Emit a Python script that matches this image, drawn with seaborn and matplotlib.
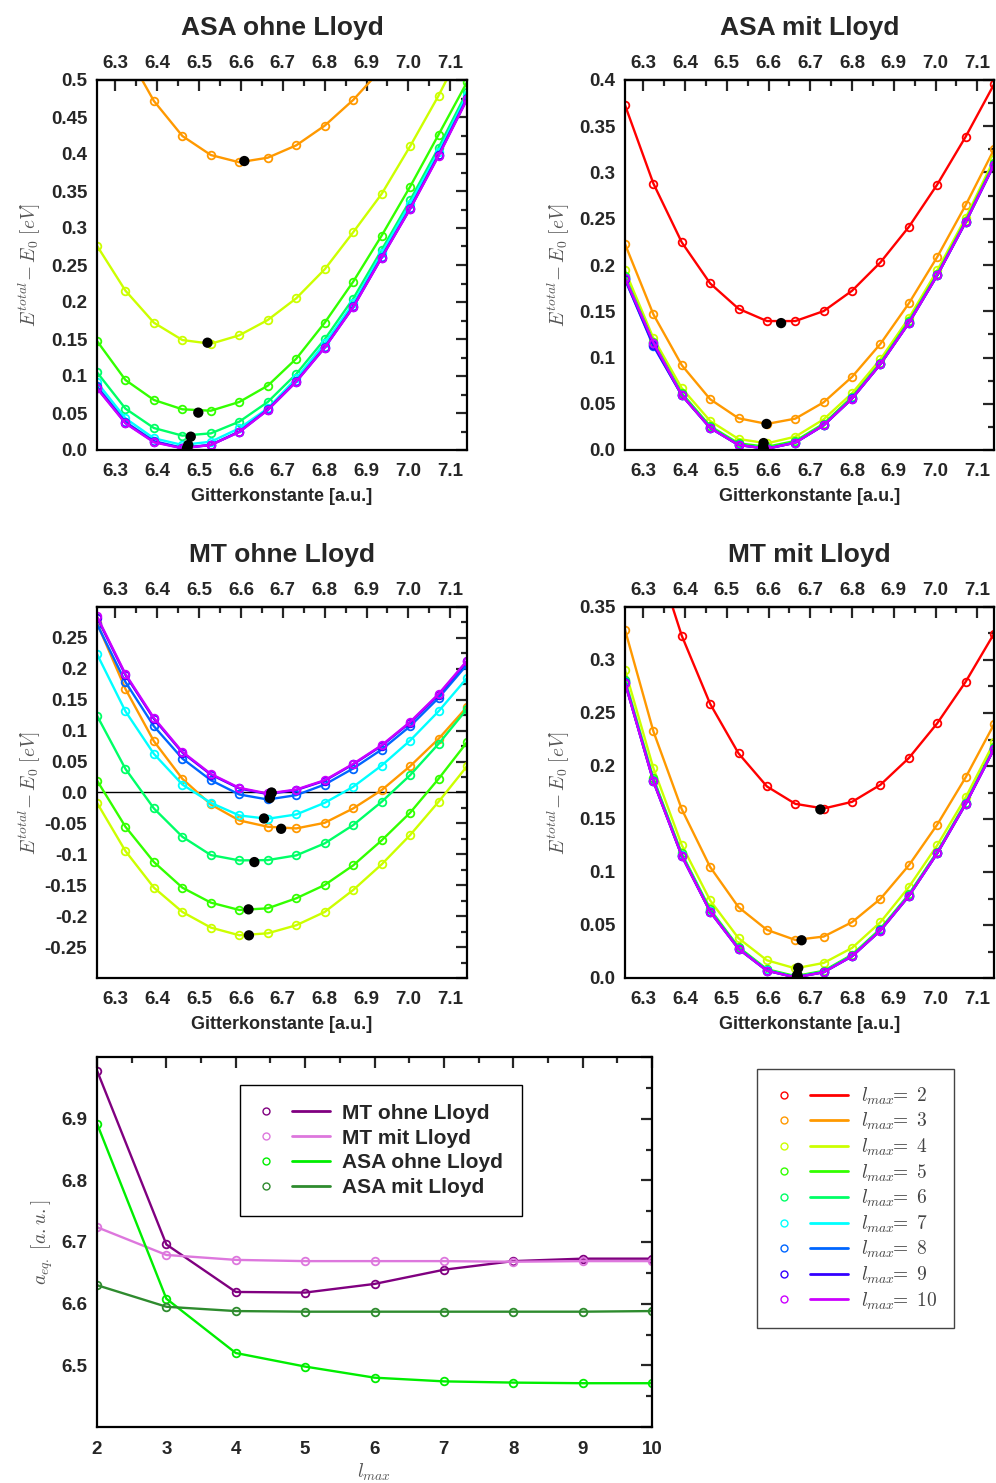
import numpy as np
import pandas as pd
import matplotlib
matplotlib.use("Agg")
import matplotlib.pyplot as plt
from matplotlib.ticker import MultipleLocator, FuncFormatter, FixedLocator, NullLocator
from matplotlib.lines import Line2D
from matplotlib.legend_handler import HandlerBase
import seaborn as sns

# ---------------- data ----------------
LATTICE = [6.256, 6.324, 6.392, 6.460, 6.528, 6.596, 6.664, 6.732, 6.800, 6.868, 6.936, 7.004, 7.072, 7.140]
LATTICE_TICKS = [6.3, 6.4, 6.5, 6.6, 6.7, 6.8, 6.9, 7.0, 7.1]
LMAX = [2, 3, 4, 5, 6, 7, 8, 9, 10]
LMAX_COLORS = ['#ff0000', '#ff9900', '#ccff00', '#33ff00', '#00ff66', '#00ffff', '#0066ff', '#3300ff', '#cc00ff']

ASA_OHNE = {
    3: [0.62, 0.54, 0.4716, 0.4243, 0.3986, 0.3888, 0.3950, 0.4117, 0.4383, 0.4730, 0.515, 0.565, 0.62, 0.68],
    4: [0.276, 0.2153, 0.172, 0.1486, 0.1436, 0.155, 0.1757, 0.205, 0.2442, 0.2942, 0.346, 0.4104, 0.4788, 0.555],
    5: [0.1473, 0.0946, 0.0676, 0.055, 0.0531, 0.0649, 0.0869, 0.1234, 0.172, 0.2274, 0.2896, 0.3558, 0.4261, 0.497],
    6: [0.105, 0.0559, 0.0297, 0.0194, 0.0225, 0.0383, 0.0649, 0.1027, 0.1496, 0.2045, 0.2703, 0.3374, 0.4085, 0.4842],
    7: [0.0915, 0.0428, 0.0158, 0.0068, 0.0112, 0.0293, 0.0563, 0.0969, 0.144, 0.198, 0.266, 0.333, 0.403, 0.480],
    8: [0.086, 0.038, 0.012, 0.003, 0.007, 0.025, 0.055, 0.093, 0.139, 0.194, 0.261, 0.327, 0.399, 0.476],
    9: [0.084, 0.0365, 0.011, 0.0025, 0.0068, 0.0245, 0.0542, 0.0925, 0.1385, 0.193, 0.260, 0.326, 0.398, 0.474],
    10: [0.0833, 0.036, 0.0104, 0.0023, 0.0068, 0.0243, 0.054, 0.0923, 0.1383, 0.1928, 0.2599, 0.3257, 0.3973, 0.4739],
}
ASA_MIT = {
    2: [0.3729, 0.2881, 0.2245, 0.1801, 0.1527, 0.1394, 0.1394, 0.1502, 0.1722, 0.2029, 0.2412, 0.2870, 0.3386, 0.3953],
    3: [0.2227, 0.1466, 0.0917, 0.0549, 0.0343, 0.0282, 0.0339, 0.0516, 0.0791, 0.1148, 0.1585, 0.2087, 0.2646, 0.3249],
    4: [0.1942, 0.1209, 0.0668, 0.0314, 0.0119, 0.0072, 0.0144, 0.0332, 0.0614, 0.0982, 0.1426, 0.1942, 0.2509, 0.3141],
    5: [0.188, 0.117, 0.0615, 0.0258, 0.0072, 0.0035, 0.0098, 0.0285, 0.0575, 0.0945, 0.1395, 0.1905, 0.2480, 0.3105],
    6: [0.1865, 0.1155, 0.0600, 0.0245, 0.0060, 0.0020, 0.0085, 0.0272, 0.0562, 0.0933, 0.1380, 0.1892, 0.2466, 0.3088],
    7: [0.186, 0.115, 0.0596, 0.0241, 0.0056, 0.0016, 0.0081, 0.0269, 0.0558, 0.0930, 0.1376, 0.1890, 0.2464, 0.3085],
    8: [0.1845, 0.1125, 0.0592, 0.0239, 0.0055, 0.0015, 0.0080, 0.0268, 0.0557, 0.0929, 0.1374, 0.1889, 0.2463, 0.3084],
    9: [0.1850, 0.1135, 0.0592, 0.0238, 0.0054, 0.0014, 0.0079, 0.0267, 0.0556, 0.0928, 0.1373, 0.1888, 0.2462, 0.3083],
    10: [0.1859, 0.1162, 0.0592, 0.0238, 0.0054, 0.0014, 0.0079, 0.0267, 0.0556, 0.0928, 0.1372, 0.1888, 0.2462, 0.3083],
}
MT_OHNE = {
    3: [0.274, 0.1674, 0.0829, 0.0221, -0.0194, -0.0452, -0.0554, -0.0581, -0.049, -0.0258, 0.0038, 0.0425, 0.0867, 0.1383],
    4: [-0.0167, -0.0947, -0.1539, -0.1932, -0.2185, -0.2309, -0.2277, -0.2147, -0.1932, -0.1577, -0.1163, -0.0689, -0.0151, 0.0425],
    5: [0.0194, -0.0554, -0.1125, -0.1539, -0.1781, -0.19, -0.1873, -0.1711, -0.1496, -0.1179, -0.0775, -0.0328, 0.0221, 0.0813],
    6: [0.1243, 0.0382, -0.0258, -0.0716, -0.1012, -0.1098, -0.1093, -0.1017, -0.0823, -0.0527, -0.0151, 0.028, 0.0786, 0.1351],
    7: [0.2239, 0.1313, 0.0624, 0.0129, -0.0167, -0.0371, -0.0425, -0.0355, -0.0167, 0.0091, 0.0436, 0.084, 0.1313, 0.1851],
    8: [0.2723, 0.1787, 0.1071, 0.0549, 0.0199, -0.0032, -0.0113, -0.0043, 0.0129, 0.0388, 0.0694, 0.1071, 0.1529, 0.2067],
    9: [0.283, 0.190, 0.119, 0.0645, 0.029, 0.0065, -0.0025, 0.004, 0.019, 0.0455, 0.0755, 0.113, 0.158, 0.212],
    10: [0.2847, 0.1916, 0.1206, 0.0657, 0.0301, 0.0075, -0.0016, 0.0048, 0.0199, 0.0463, 0.0764, 0.1141, 0.1593, 0.2131],
}
MT_MIT = {
    2: [0.51, 0.406, 0.3229, 0.2586, 0.2119, 0.1807, 0.1643, 0.1599, 0.1662, 0.1823, 0.2075, 0.2403, 0.2794, 0.3248],
    3: [0.3286, 0.2327, 0.1592, 0.1047, 0.0668, 0.0454, 0.0359, 0.0391, 0.0527, 0.0747, 0.1063, 0.1447, 0.1892, 0.2393],
    4: [0.2907, 0.198, 0.1255, 0.0732, 0.0375, 0.0167, 0.0091, 0.0142, 0.0284, 0.0527, 0.0858, 0.1252, 0.1703, 0.2223],
    5: [0.2815, 0.1885, 0.1175, 0.0648, 0.0292, 0.0083, 0.0018, 0.0068, 0.0220, 0.0465, 0.0790, 0.1192, 0.1655, 0.2175],
    6: [0.2800, 0.1868, 0.1162, 0.0635, 0.0282, 0.0075, 0.0011, 0.0060, 0.0212, 0.0455, 0.0780, 0.1183, 0.1647, 0.2167],
    7: [0.2792, 0.1860, 0.1156, 0.0629, 0.0278, 0.0072, 0.0008, 0.0057, 0.0208, 0.0451, 0.0776, 0.1179, 0.1643, 0.2163],
    8: [0.2788, 0.1857, 0.1153, 0.0626, 0.0276, 0.0070, 0.0007, 0.0055, 0.0206, 0.0449, 0.0774, 0.1177, 0.1641, 0.2161],
    9: [0.2786, 0.1855, 0.1152, 0.0625, 0.0275, 0.0069, 0.0006, 0.0054, 0.0205, 0.0448, 0.0773, 0.1176, 0.1640, 0.2160],
    10: [0.2784, 0.1854, 0.1151, 0.0624, 0.0274, 0.0069, 0.0006, 0.0054, 0.0205, 0.0448, 0.0773, 0.1176, 0.1640, 0.2160],
}

# equilibrium lattice constants (lmax = 2..10)
AEQ_MT_OHNE = [6.978, 6.696, 6.619, 6.618, 6.632, 6.655, 6.669, 6.673, 6.673]
AEQ_MT_MIT = [6.724, 6.679, 6.671, 6.669, 6.669, 6.669, 6.668, 6.669, 6.669]
AEQ_ASA_OHNE = [6.892, 6.608, 6.520, 6.498, 6.480, 6.474, 6.472, 6.471, 6.471]
AEQ_ASA_MIT = [6.630, 6.595, 6.588, 6.587, 6.587, 6.587, 6.587, 6.587, 6.588]

# minimum energies (fit minima, black dots)
EMIN_ASA_OHNE = {3: 0.3905, 4: 0.1450, 5: 0.0505, 6: 0.0180, 7: 0.0068, 8: 0.0030, 9: 0.0020, 10: 0.0012}
EMIN_ASA_MIT = {2: 0.1372, 3: 0.0282, 4: 0.0075, 5: 0.0040, 6: 0.0020, 7: 0.0015, 8: 0.0010, 9: 0.0010, 10: 0.0010}
EMIN_MT_OHNE = {3: -0.0587, 4: -0.2310, 5: -0.1890, 6: -0.1125, 7: -0.0420, 8: -0.0090, 9: -0.0010, 10: 0.0000}
EMIN_MT_MIT = {2: 0.1590, 3: 0.0356, 4: 0.0095, 5: 0.0030, 6: 0.0015, 7: 0.0010, 8: 0.0008, 9: 0.0006, 10: 0.0006}

SUMMARY_NAMES = ['MT ohne Lloyd', 'MT mit Lloyd', 'ASA ohne Lloyd', 'ASA mit Lloyd']
SUMMARY_COLORS = ['#800080', '#dd77dd', '#00ee00', '#2e8b2e']

# ---------------- style ----------------
sns.set_style("white")
plt.rcParams['font.family'] = ['Liberation Sans', 'DejaVu Sans']
plt.rcParams['font.weight'] = 'bold'
plt.rcParams['axes.titleweight'] = 'bold'
plt.rcParams['axes.labelweight'] = 'bold'
plt.rcParams['mathtext.fontset'] = 'cm'
plt.rcParams['axes.edgecolor'] = 'black'
plt.rcParams['axes.linewidth'] = 1.6

W, H = 996, 1483
fig = plt.figure(figsize=(W / 100, H / 100), dpi=100)
fig.patch.set_facecolor('white')


class MarkerLineHandler(HandlerBase):
    """gnuplot-like key: open circle, gap, then a line segment."""

    def __init__(self, mfrac, lstart, lend, ms=5.0):
        super().__init__()
        self.mfrac, self.lstart, self.lend, self.ms = mfrac, lstart, lend, ms

    def create_artists(self, legend, orig_handle, xdescent, ydescent,
                       width, height, fontsize, trans):
        c = orig_handle.get_color()
        y = height / 2 - ydescent
        m = Line2D([width * self.mfrac - xdescent], [y], ls='none', marker='o',
                   markersize=self.ms, markerfacecolor='none', markeredgecolor=c,
                   markeredgewidth=1.0, transform=trans)
        ln = Line2D([width * self.lstart - xdescent, width * self.lend - xdescent],
                    [y, y], color=c, lw=2.0, transform=trans)
        return [m, ln]


def add_axes(l, t, r, b):
    return fig.add_axes([l / W, 1 - b / H, (r - l) / W, (b - t) / H])


def yfmt(v, pos=None):
    if abs(v) < 1e-9:
        return '0.0'
    return f'{v:g}'


def xfmt(v, pos=None):
    return f'{v:.1f}'


def style_energy_axes(ax, ymin, ymax, hide_edges=False):
    ax.set_xlim(LATTICE[0], LATTICE[-1])
    ax.set_ylim(ymin, ymax)
    ax.xaxis.set_major_locator(FixedLocator(LATTICE_TICKS))
    ax.xaxis.set_minor_locator(MultipleLocator(0.05))
    ax.yaxis.set_major_locator(MultipleLocator(0.05))
    ax.yaxis.set_minor_locator(MultipleLocator(0.025))
    ax.xaxis.set_major_formatter(FuncFormatter(xfmt))
    if hide_edges:
        ax.yaxis.set_major_formatter(FuncFormatter(
            lambda v, p: '' if abs(abs(v) - 0.3) < 1e-6 else yfmt(v)))
    else:
        ax.yaxis.set_major_formatter(FuncFormatter(yfmt))
    ax.tick_params(which='both', direction='in', top=True, right=True,
                   labeltop=False, width=1.6, labelsize=13.5)
    ax.tick_params(which='major', length=8)
    ax.tick_params(which='minor', length=4)
    ax.tick_params(axis='x', which='major', pad=9)
    ax.tick_params(axis='y', which='major', pad=7)
    # top tick labels (own padding)
    sec = ax.secondary_xaxis('top')
    sec.xaxis.set_major_locator(FixedLocator(LATTICE_TICKS))
    sec.xaxis.set_minor_locator(NullLocator())
    sec.xaxis.set_major_formatter(FuncFormatter(xfmt))
    sec.tick_params(which='both', direction='in', length=0, pad=5.5, labelsize=13.5)
    sec.spines['top'].set_linewidth(1.6)
    ax.set_xlabel('Gitterkonstante [a.u.]', fontsize=13, fontweight='bold')
    ax.xaxis.set_label_coords(0.5, -0.103)
    ax.set_ylabel(r'$E^{total}\!-E_0\ [eV]$', fontsize=14, color='#555555')


def draw_energy(ax, curves, aeq, emin):
    for lm, vals in curves.items():
        c = LMAX_COLORS[LMAX.index(lm)]
        df = pd.DataFrame({'a': LATTICE, 'E': vals})
        sns.lineplot(data=df, x='a', y='E', ax=ax, color=c, lw=1.7,
                     marker='o', markersize=5.5, markerfacecolor='none',
                     markeredgecolor=c, markeredgewidth=1.3,
                     sort=False, estimator=None, legend=False)
    dots = pd.DataFrame({'a': [aeq[LMAX.index(lm)] for lm in emin],
                         'E': list(emin.values())})
    sns.scatterplot(data=dots, x='a', y='E', ax=ax, color='black', s=55,
                    edgecolor='none', zorder=10, legend=False)


panels = [
    ('ASA ohne Lloyd', (97, 80, 467, 450), ASA_OHNE, AEQ_ASA_OHNE, EMIN_ASA_OHNE, (0.0, 0.5), False, -0.146),
    ('ASA mit Lloyd', (625, 80, 994, 450), ASA_MIT, AEQ_ASA_MIT, EMIN_ASA_MIT, (0.0, 0.4), False, -0.143),
    ('MT ohne Lloyd', (97, 607, 467, 978), MT_OHNE, AEQ_MT_OHNE, EMIN_MT_OHNE, (-0.3, 0.3), True, -0.146),
    ('MT mit Lloyd', (625, 607, 994, 978), MT_MIT, AEQ_MT_MIT, EMIN_MT_MIT, (0.0, 0.35), False, -0.143),
]

for title, box, curves, aeq, emin, ylim, hide, ylab_x in panels:
    ax = add_axes(*box)
    draw_energy(ax, curves, aeq, emin)
    style_energy_axes(ax, ylim[0], ylim[1], hide_edges=hide)
    ax.yaxis.set_label_coords(ylab_x, 0.5)
    ax.set_title(title, fontsize=19, fontweight='bold', y=1.1405, va='center', pad=0)
    if hide:
        ax.axhline(0.0, color='black', lw=1.0, zorder=1)

# ---------------- summary panel ----------------
ax5 = add_axes(97, 1057, 652, 1427)
summary = [AEQ_MT_OHNE, AEQ_MT_MIT, AEQ_ASA_OHNE, AEQ_ASA_MIT]
handles = []
for name, vals, c in zip(SUMMARY_NAMES, summary, SUMMARY_COLORS):
    sns.lineplot(x=LMAX, y=vals, ax=ax5, color=c, lw=1.7, marker='o',
                 markersize=5.5, markerfacecolor='none', markeredgecolor=c,
                 markeredgewidth=1.3, legend=False, estimator=None, sort=False)
    handles.append(Line2D([], [], color=c))
ax5.set_xlim(2, 10)
ax5.set_ylim(6.4, 7.0)
ax5.xaxis.set_major_locator(MultipleLocator(1))
ax5.xaxis.set_minor_locator(MultipleLocator(0.5))
ax5.yaxis.set_major_locator(MultipleLocator(0.1))
ax5.yaxis.set_minor_locator(MultipleLocator(0.05))
ax5.yaxis.set_major_formatter(FuncFormatter(
    lambda v, p: '' if (abs(v - 6.4) < 1e-6 or abs(v - 7.0) < 1e-6) else f'{v:.1f}'))
ax5.tick_params(which='both', direction='in', top=True, right=True, width=1.6, labelsize=13.5)
ax5.tick_params(which='major', length=8)
ax5.tick_params(which='minor', length=4)
ax5.tick_params(axis='x', which='major', pad=10)
ax5.tick_params(axis='y', which='major', pad=7)
ax5.set_xlabel(r'$l_{max}$', fontsize=14, color='#555555')
ax5.xaxis.set_label_coords(0.5, -0.093)
ax5.set_ylabel(r'$a_{eq.}\ [a.u.]$', fontsize=14, color='#555555')
ax5.yaxis.set_label_coords(-0.076, 0.5)

leg1 = ax5.legend(handles, SUMMARY_NAMES,
                  handler_map={Line2D: MarkerLineHandler(0.096, 0.443, 0.95, ms=5.0)},
                  loc='upper left', bbox_to_anchor=((240 - 97) / 555, (1427 - 1085) / 370),
                  borderaxespad=0, frameon=True, fancybox=False, edgecolor='black',
                  framealpha=1, handlelength=3.6, handletextpad=0.4, labelspacing=0.28,
                  borderpad=0.9, prop={'weight': 'bold', 'size': 15})
leg1.get_frame().set_linewidth(1.0)

# ---------------- lmax legend ----------------
lm_handles = [Line2D([], [], color=c) for c in LMAX_COLORS]
lm_labels = [rf'$l_{{max}}\!\!=\ {lm}$' for lm in LMAX]
leg2 = fig.legend(lm_handles, lm_labels,
                  handler_map={Line2D: MarkerLineHandler(0.14, 0.48, 0.98, ms=5.0)},
                  loc='upper left', bbox_to_anchor=(757 / W, 1 - 1069 / H),
                  borderaxespad=0, frameon=True, fancybox=False, edgecolor='#444444',
                  framealpha=1, handlelength=3.9, handletextpad=0.6, labelspacing=0.22,
                  borderpad=0.85, prop={'size': 14})
leg2.get_frame().set_linewidth(1.0)
for t in leg2.get_texts():
    t.set_color('#444444')

fig.savefig('out.png', dpi=100, facecolor='white')
